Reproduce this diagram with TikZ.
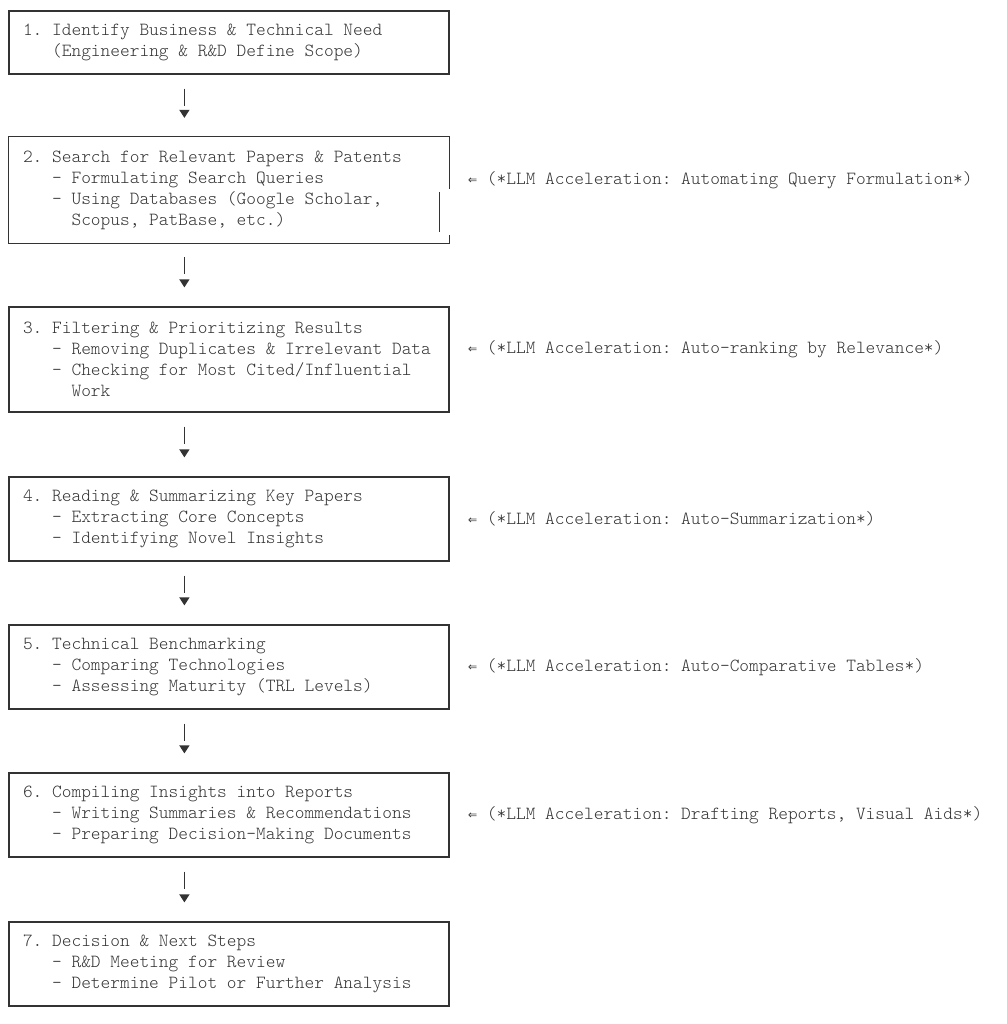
\documentclass[tikz,border=0pt]{standalone}
\usepackage{fontspec}
\newfontfamily\arrowfont{DejaVu Sans Mono}
\usepackage{tikz}
\usetikzlibrary{arrows.meta}
\definecolor{ink}{HTML}{333333}
\newcommand{\boxfont}{\fontfamily{lmtt}\fontseries{l}\fontsize{18.5}{21}\selectfont\frenchspacing\spaceskip=0.525em\relax}
\newcommand{\ind}{\phantom{xxx}}
\newcommand{\indd}{\phantom{xxxxx}}
\newcommand{\llm}{{\arrowfont\fontsize{15}{21}\selectfont ⇐}\hspace{0.525em}}

\begin{document}
\begin{tikzpicture}[x=1pt, y=1pt, font=\boxfont, color=ink]
      \useasboundingbox (0,0) rectangle (1006,-1024);

      \begin{scope}[every node/.style={rectangle, draw, line width=1.2pt, text width=412pt, inner xsep=14pt, inner ysep=0pt, align=flush left}]
        \node[minimum height=63pt] (b1) at (229,-42.5) {1. Identify Business \& Technical Need\\\ind(Engineering \& R\&D Define Scope)};
        \node[minimum height=105pt, draw=none] (b2) at (229,-190) {2. Search for Relevant Papers \& Patents\\\ind- Formulating Search Queries\\\ind- Using Databases (Google Scholar,\\\indd Scopus, PatBase, etc.)};
        \node[minimum height=105pt] (b3) at (229,-359.5) {3. Filtering \& Prioritizing Results\\\ind- Removing Duplicates \& Irrelevant Data\\\ind- Checking for Most Cited/Influential\\\indd Work};
        \node[minimum height=84pt] (b4) at (229,-519) {4. Reading \& Summarizing Key Papers\\\ind- Extracting Core Concepts\\\ind- Identifying Novel Insights};
        \node[minimum height=84pt] (b5) at (229,-667) {5. Technical Benchmarking\\\ind- Comparing Technologies\\\ind- Assessing Maturity (TRL Levels)};
        \node[minimum height=84pt] (b6) at (229,-815) {6. Compiling Insights into Reports\\\ind- Writing Summaries \& Recommendations\\\ind- Preparing Decision-Making Documents};
        \node[minimum height=84pt] (b7) at (229,-964) {7. Decision \& Next Steps\\\ind- R\&D Meeting for Review\\\ind- Determine Pilot or Further Analysis};
      \end{scope}

      % box 2 has a shifted right edge
      \begin{scope}[line width=1.2pt]
        \draw ([yshift=-52pt]b2.north east) -- (b2.north east) -- (b2.north west) -- (b2.south west) -- (b2.south east) -- ([yshift=8pt]b2.south east);
        \draw ([xshift=-10pt,yshift=-55pt]b2.north east) -- ([xshift=-10pt,yshift=11pt]b2.south east);
      \end{scope}

      \begin{scope}[-{Triangle[width=10pt,length=8pt]}, line width=1.2pt, shorten <=14pt, shorten >=19pt, dash pattern=on 17pt off 30pt]
        \draw ([xshift=176pt]b1.south west) -- ([xshift=176pt]b2.north west);
        \draw ([xshift=176pt]b2.south west) -- ([xshift=176pt]b3.north west);
        \draw ([xshift=176pt]b3.south west) -- ([xshift=176pt]b4.north west);
        \draw ([xshift=176pt]b4.south west) -- ([xshift=176pt]b5.north west);
        \draw ([xshift=176pt]b5.south west) -- ([xshift=176pt]b6.north west);
        \draw ([xshift=176pt]b6.south west) -- ([xshift=176pt]b7.north west);
      \end{scope}

      \begin{scope}[every node/.style={anchor=west, inner sep=0pt}]
        \node (n2) at (468,-180) {\llm(*LLM Acceleration: Automating Query Formulation*)};
        \node (n3) at (468,-349) {\llm(*LLM Acceleration: Auto-ranking by Relevance*)};
        \node (n4) at (468,-519) {\llm(*LLM Acceleration: Auto-Summarization*)};
        \node (n5) at (468,-667) {\llm(*LLM Acceleration: Auto-Comparative Tables*)};
        \node (n6) at (468,-815) {\llm(*LLM Acceleration: Drafting Reports, Visual Aids*)};
      \end{scope}
   \end{tikzpicture}
\end{document}
